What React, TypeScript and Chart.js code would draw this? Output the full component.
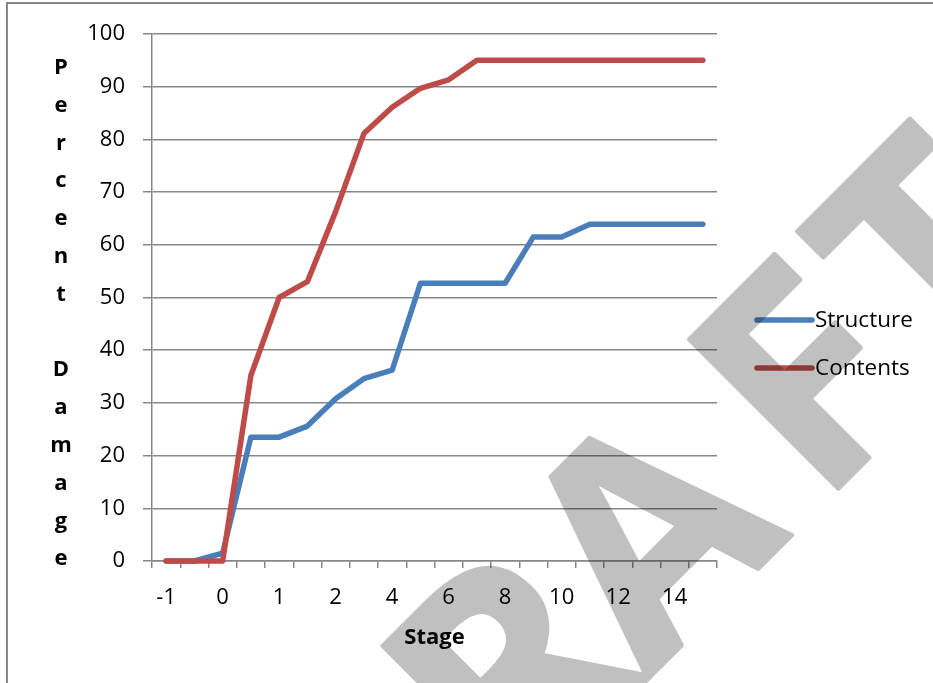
import { useEffect, useRef } from 'react';
import { Chart, registerables } from 'chart.js';

Chart.register(...registerables);

// ---- data ----
const stages = ['-1', '-0.5', '0', '0.5', '1', '1.5', '2', '3', '4', '5', '6', '7', '8', '9', '10', '11', '12', '13', '14', '15'];
const structure = [0, 0, 1.5, 23.5, 23.5, 25.6, 30.8, 34.6, 36.2, 52.7, 52.7, 52.7, 52.7, 61.5, 61.5, 63.9, 63.9, 63.9, 63.9, 63.9];
const contents = [0, 0, 0, 35.2, 50, 53, 66.3, 81.1, 86.1, 89.7, 91.3, 95, 95, 95, 95, 95, 95, 95, 95, 95];
const seriesNames = ['Structure', 'Contents'];
const seriesColors = ['#4A7EBB', '#BE4B48'];
const yMin = 0;
const yMax = 100;
const yStep = 10;
const xTitle = 'Stage';
const yTitle = 'Percent Damage';
const watermark = ['D', 'R', 'A', 'F', 'T'];
const watermarkOffsets = [-480, -292, -97, 125, 303];

const FONT = '"Open Sans", sans-serif';
const GRID = '#878787';

const deco = {
  id: 'deco',
  beforeDraw(chart: any) {
    const { ctx, width, height } = chart;
    ctx.save();
    ctx.fillStyle = '#ffffff';
    ctx.fillRect(0, 0, width, height);
    ctx.restore();
  },
  afterDraw(chart: any) {
    const { ctx, chartArea: area } = chart;
    ctx.save();
    // outer border
    ctx.strokeStyle = GRID;
    ctx.lineWidth = 2;
    ctx.strokeRect(7, 3, chart.width + 20, chart.height + 20);

    // stacked y title
    ctx.fillStyle = '#000';
    ctx.font = `bold 22px ${FONT}`;
    ctx.textAlign = 'center';
    ctx.textBaseline = 'alphabetic';
    Array.from(yTitle).forEach((ch, i) => {
      if (ch !== ' ') ctx.fillText(ch, area.left - 91, area.top + 40 + i * 37.8);
    });

    // legend
    const lx = area.right + 40;
    seriesNames.forEach((name, i) => {
      const ly = area.top + 286 + i * 48;
      ctx.strokeStyle = seriesColors[i];
      ctx.lineWidth = 5.5;
      ctx.lineCap = 'round';
      ctx.beginPath();
      ctx.moveTo(lx, ly);
      ctx.lineTo(lx + 55, ly);
      ctx.stroke();
      ctx.fillStyle = '#000';
      ctx.font = `22.5px ${FONT}`;
      ctx.textAlign = 'left';
      ctx.textBaseline = 'middle';
      ctx.fillText(name, lx + 58, ly + 1);
    });
    ctx.restore();

    // watermark (rounded, drawn on an offscreen layer, multiplied on top)
    const off = document.createElement('canvas');
    off.width = chart.width;
    off.height = chart.height;
    const o = off.getContext('2d') as CanvasRenderingContext2D;
    o.fillStyle = '#c0c0c0';
    o.strokeStyle = '#c0c0c0';
    o.lineWidth = 4;
    o.lineJoin = 'round';
    o.font = `bold 296px ${FONT}`;
    o.textAlign = 'center';
    o.textBaseline = 'alphabetic';
    o.translate(790, 540);
    o.rotate(-Math.PI / 4);
    watermark.forEach((ch, i) => {
      o.fillText(ch, watermarkOffsets[i], -2);
      o.strokeText(ch, watermarkOffsets[i], -2);
    });
    ctx.save();
    ctx.globalCompositeOperation = 'multiply';
    ctx.drawImage(off, 0, 0);
    ctx.restore();
  },
};

export default function App() {
  const ref = useRef<HTMLCanvasElement>(null);
  useEffect(() => {
    const chart = new Chart(ref.current as HTMLCanvasElement, {
      type: 'line',
      data: {
        labels: stages,
        datasets: [
          { label: seriesNames[0], data: structure, borderColor: seriesColors[0], backgroundColor: seriesColors[0], order: 1 },
          { label: seriesNames[1], data: contents, borderColor: seriesColors[1], backgroundColor: seriesColors[1], order: 0 },
        ].map((d) => ({
          ...d,
          borderWidth: 5.5,
          pointRadius: 0,
          pointHoverRadius: 0,
          tension: 0,
          clip: false as const,
          borderJoinStyle: 'round' as const,
          borderCapStyle: 'round' as const,
          fill: false,
        })),
      },
      options: {
        responsive: false,
        animation: false,
        devicePixelRatio: 1,
        layout: { padding: { left: 87, right: 216, top: 34, bottom: 0 } },
        plugins: { legend: { display: false }, tooltip: { enabled: false } },
        scales: {
          x: {
            type: 'category',
            offset: true,
            afterFit: (s: any) => { s.height = 122; },
            grid: { offset: true, drawOnChartArea: false, tickLength: 7, color: GRID, lineWidth: 1.5 },
            border: { display: true, color: GRID, width: 1.5 },
            ticks: {
              autoSkip: false,
              maxRotation: 0,
              minRotation: 0,
              padding: 17,
              color: '#000',
              font: { family: FONT, size: 22 },
              callback: (_v: any, i: number) => (i % 2 === 0 ? stages[i] : ''),
            },
            title: {
              display: true,
              text: xTitle,
              color: '#000',
              font: { family: FONT, size: 22, weight: 'bold' },
              padding: { top: 0, bottom: 32 },
            },
          },
          y: {
            min: yMin,
            max: yMax,
            afterFit: (s: any) => { s.width = 65; },
            grid: { color: GRID, lineWidth: 1.5, tickLength: 9 },
            border: { display: true, color: GRID, width: 1.5 },
            ticks: {
              stepSize: yStep,
              padding: 18,
              color: '#000',
              font: { family: FONT, size: 22 },
            },
          },
        },
      },
      plugins: [deco],
    });
    return () => chart.destroy();
  }, []);
  return (
    <div style={{ position: 'fixed', left: 0, top: 0, width: 933, height: 683, background: '#fff' }}>
      <canvas ref={ref} width={933} height={683} style={{ display: 'block', width: 933, height: 683 }} />
    </div>
  );
}
